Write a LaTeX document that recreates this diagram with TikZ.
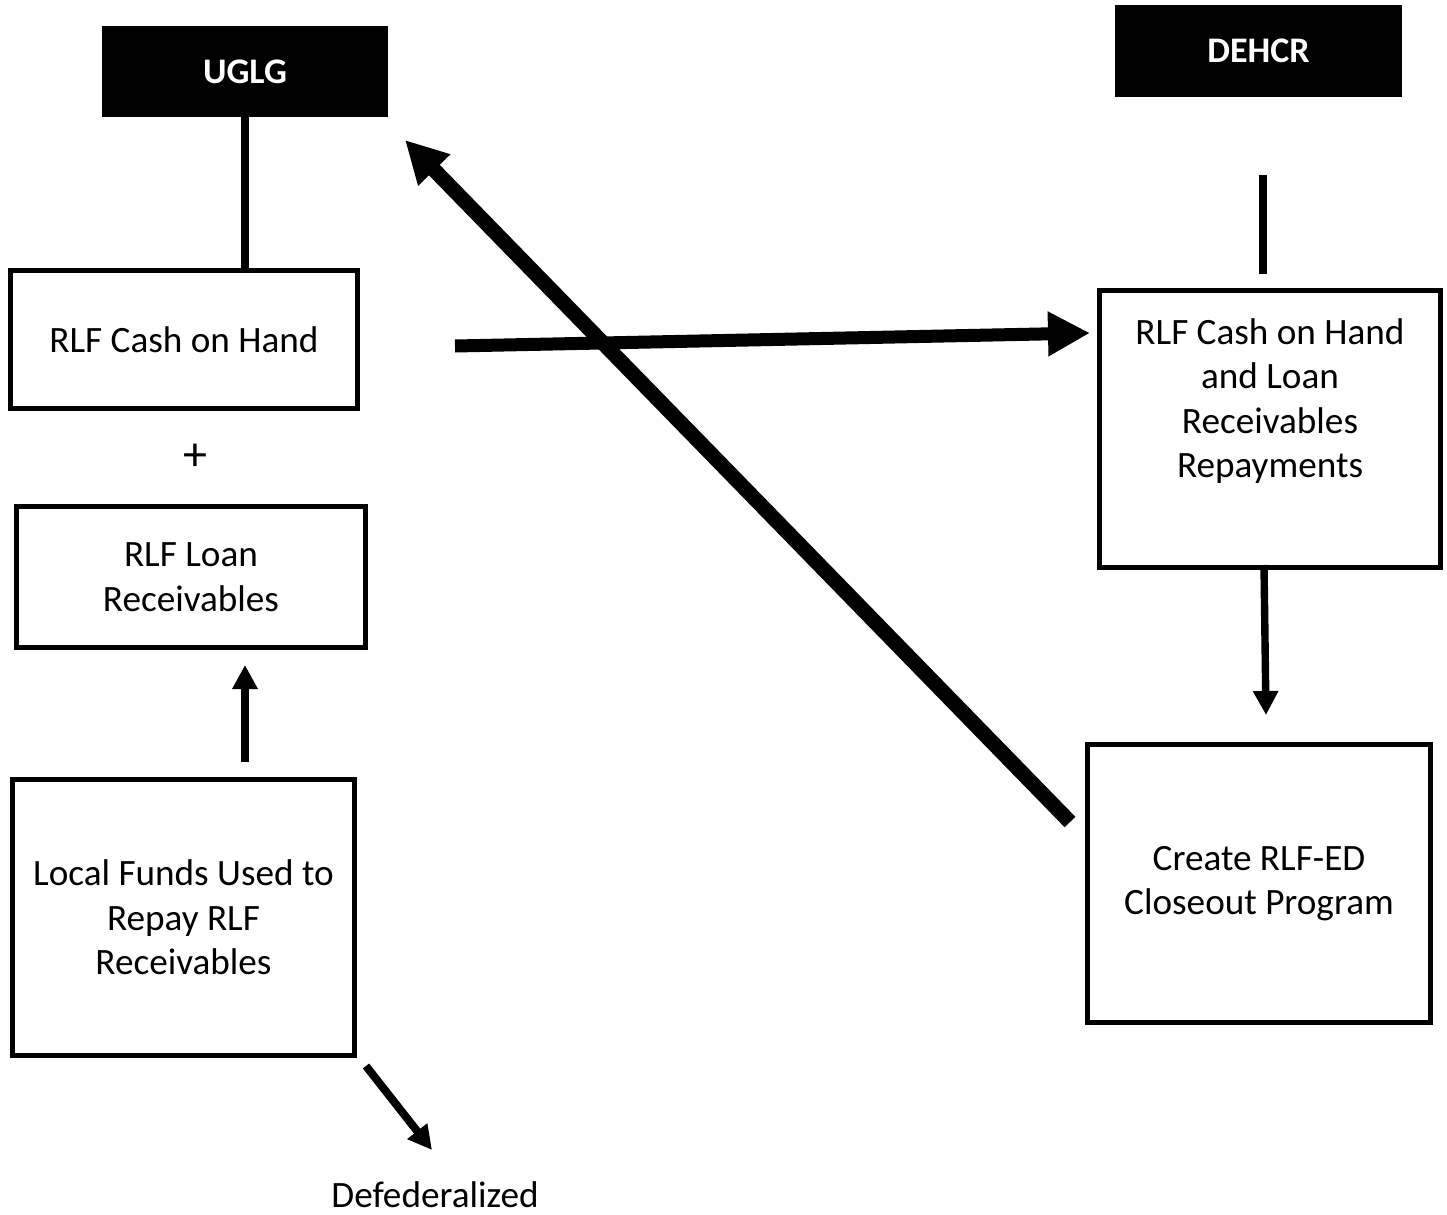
\documentclass[tikz,border=0pt]{standalone}
\usepackage{fontspec}
\setmainfont{Carlito}
\usetikzlibrary{arrows.meta}

\tikzset{
  box/.style={draw, line width=2.5pt, minimum width=#1, inner sep=0pt},
  head/.style={fill=black, text=white, font=\fontsize{18}{22}\selectfont\bfseries, inner sep=0pt},
  txt/.style={align=center, font=\fontsize{18.6}{22.2}\selectfont, inner sep=0pt},
  link/.style={line width=3.7pt},
  flow/.style={line width=3.7pt, -{Triangle[width=12pt,length=12pt]}},
  bigflow/.style={line width=6.5pt, -{Triangle[width=21pt,length=21pt]}}
}

\begin{document}
\begin{tikzpicture}[x=0.5pt, y=-0.5pt]
\useasboundingbox (0,0) rectangle (1447,1215);

% heads
\node[head, minimum width=143pt, minimum height=45.5pt] (uglg) at (245,71.5) {UGLG};
\node[head, minimum width=143.5pt, minimum height=46pt] (dehcr) at (1258.5,51) {DEHCR};

% left column
\node[box=173.5pt, minimum height=69pt, txt] (cash) at (184,339.5) {RLF Cash on Hand};
\node[txt, font=\fontsize{24}{28}\selectfont] (plus) at (195,457) {+};
\node[box=174.5pt, minimum height=70.5pt, txt] (loan) at (191,577) {RLF Loan\\Receivables};
\node[box=171pt, minimum height=138pt, txt] (local) at (183.5,917.5) {Local Funds Used to\\Repay RLF\\Receivables};
\node[txt] (defed) at (435,1195) {Defederalized};

% right column
\node[box=170.5pt, minimum height=138.5pt] (repay) at (1270,429) {};
\node[txt] (repaytxt) at (1270,401) {RLF Cash on Hand\\and Loan\\Receivables\\Repayments};
\node[box=171.5pt, minimum height=139pt, txt] (closeout) at (1259,883.5) {Create RLF-ED\\Closeout Program};

\coordinate (dtop) at (1263,175);
\coordinate (dbot) at (1263,274);
\coordinate (hstart) at (455,346);
\coordinate (hend) at (1090,333);
\coordinate (dstart) at (1070,822);
\coordinate (dend) at (405,140);
\coordinate (vstart) at (1264,565);
\coordinate (vend) at (1266,715);
\coordinate (ustart) at (245,762);
\coordinate (uend) at (245,665);
\coordinate (fstart) at (366,1066);
\coordinate (fend) at (432,1150);

\draw[link] (uglg.south) -- (uglg.south |- cash.north);
\draw[link] (dtop) -- (dbot);
\draw[bigflow] (hstart) -- (hend);
\draw[bigflow, line width=7.5pt] (dstart) -- (dend);
\draw[flow] (vstart) -- (vend);
\draw[flow] (ustart) -- (uend);
\draw[flow, line width=4pt] (fstart) -- (fend);

\end{tikzpicture}
\end{document}
